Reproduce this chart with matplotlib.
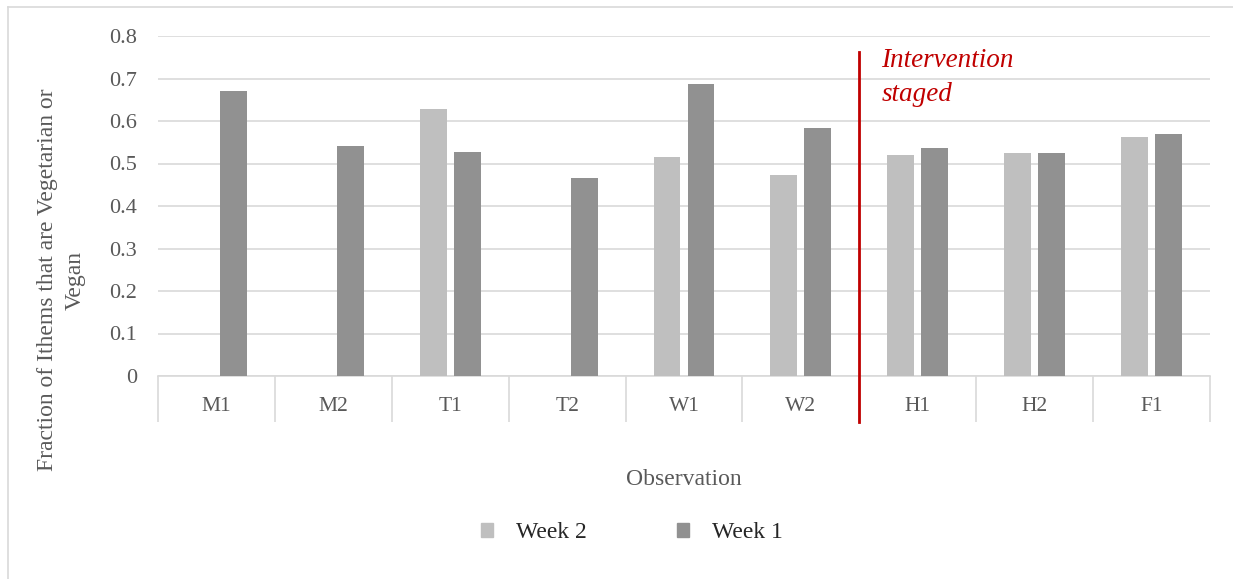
import numpy as np
import matplotlib
matplotlib.use("Agg")
import matplotlib.pyplot as plt
from matplotlib.patches import Patch
from matplotlib.lines import Line2D

# observation days and the two weeks of measurements (0 = no week 2 data)
observations = ["M1", "M2", "T1", "T2", "W1", "W2", "H1", "H2", "F1"]
week2 = [0, 0, 0.628, 0, 0.515, 0.474, 0.520, 0.524, 0.562]
week1 = [0.670, 0.541, 0.527, 0.466, 0.687, 0.583, 0.536, 0.524, 0.570]
yticks = [0, 0.1, 0.2, 0.3, 0.4, 0.5, 0.6, 0.7, 0.8]
intervention_after = 5  # index of last observation before intervention

c_w2 = "#bfbfbf"
c_w1 = "#919191"
c_red = "#c00000"
c_txt = "#595959"

plt.rcParams["font.family"] = ["Liberation Serif", "DejaVu Serif"]

fig = plt.figure(figsize=(12.33, 5.79), dpi=100)
ax = fig.add_axes([158 / 1233, 1 - 376 / 579, (1210 - 158) / 1233, (376 - 36) / 579])

x = np.arange(len(observations))
off = 0.145
w = 0.23
ax.bar(x - off, week2, w, color=c_w2, linewidth=0, zorder=3)
ax.bar(x + off, week1, w, color=c_w1, linewidth=0, zorder=3)

ax.set_xlim(-0.5, len(observations) - 0.5)
ax.set_ylim(0, 0.8)
ax.set_yticks(yticks)
ax.set_yticklabels(["0" if v == 0 else f"{v:.1f}" for v in yticks])
ax.yaxis.grid(True, color="#d9d9d9", linewidth=1.2, zorder=0)
ax.set_axisbelow(True)

for s in ["left", "right", "top"]:
    ax.spines[s].set_visible(False)
ax.spines["bottom"].set_color("#d9d9d9")
ax.spines["bottom"].set_linewidth(1.2)

# category labels between long separator ticks (Excel style)
ax.set_xticks(np.arange(len(observations) + 1) - 0.5)
ax.set_xticklabels([])
ax.tick_params(axis="x", which="major", length=33, color="#d9d9d9", width=1.2)
ax.set_xticks(x, minor=True)
ax.set_xticklabels(observations, minor=True)
ax.tick_params(axis="x", which="minor", length=0, pad=15, labelsize=15.5, labelcolor=c_txt)
ax.tick_params(axis="y", length=0, pad=15, labelsize=16, labelcolor=c_txt)

ax.set_xlabel("Observation", fontsize=17, color=c_txt)
ax.xaxis.set_label_coords(0.5, -(469 - 376) / 340, transform=ax.transAxes)
ax.set_ylabel("Fraction of Ithems that are Vegetarian or\nVegan", fontsize=17,
              color=c_txt, linespacing=1.45)
ax.yaxis.set_label_coords(-(158 - 86) / 1052, 1 - (280 - 36) / 340)

# intervention marker
xi = intervention_after + 0.5
ax.plot([xi, xi], [-0.108, 0.762], color=c_red, linewidth=2, clip_on=False, zorder=5)
ax.text(xi + 0.19, 0.772, "Intervention\nstaged", color=c_red, fontsize=19.5,
        style="italic", va="top", ha="left", linespacing=1.5)

handles = [Patch(color=c_w2), Patch(color=c_w1)]
fig.legend(handles, ["Week 2", "Week 1"], loc="center", bbox_to_anchor=(632 / 1233, 1 - 533 / 579),
           ncol=2, frameon=False, fontsize=17, handlelength=0.5, handleheight=0.5,
           handletextpad=1.0, columnspacing=3.8, labelcolor="#262626")

# chart border
fig.add_artist(Line2D([8 / 1233, 8 / 1233], [0, 1 - 7 / 579], color="#d9d9d9", linewidth=1.2))
fig.add_artist(Line2D([8 / 1233, 1], [1 - 7 / 579, 1 - 7 / 579], color="#d9d9d9", linewidth=1.2))

fig.savefig("out.png", dpi=100)
